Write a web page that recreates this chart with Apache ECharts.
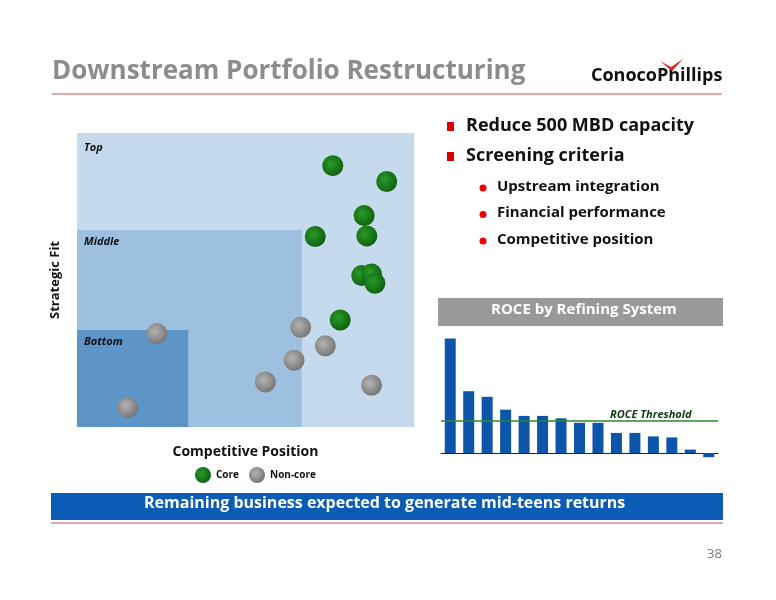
<!DOCTYPE html>
<html>
<head>
<meta charset="UTF-8" />
<title>Downstream Portfolio Restructuring</title>
<style>
  body { margin: 0; background: #fff; }
  #chart { width: 776px; height: 600px; }
</style>
<script src="https://cdn.jsdelivr.net/npm/echarts@6/dist/echarts.min.js"></script>
</head>
<body>
<div id="chart"></div>
<script>
  var corePoints = [[75.9, 88.9], [91.9, 83.5], [85.2, 71.9], [70.7, 64.8], [86, 65], [84.5, 51.5], [87.4, 52], [88.4, 48.9], [78.1, 36.4]];
  var nonCorePoints = [[23.7, 31.8], [66.4, 33.9], [73.7, 27.6], [64.4, 22.7], [55.9, 15.3], [87.4, 14.2], [15.1, 6.6]];
  var roceValues = [33, 17.8, 16.2, 12.5, 10.7, 10.7, 10, 8.7, 8.7, 5.8, 5.8, 4.8, 4.5, 1, -1.2];
  var roceThreshold = 9.2;
  var bulletsMain = ["Reduce 500 MBD capacity", "Screening criteria"];
  var bulletsSub = ["Upstream integration", "Financial performance", "Competitive position"];

  var font = "'Open Sans', 'Liberation Sans', sans-serif";
  var chart = echarts.init(document.getElementById("chart"));

  function ball(c1, c2) {
    return new echarts.graphic.RadialGradient(0.4, 0.4, 0.7, [
      { offset: 0, color: c1 }, { offset: 1, color: c2 }
    ]);
  }

  var graphics = [
    { type: "text", left: 52, top: 59, style: { text: "Downstream Portfolio Restructuring", font: "bold 26px " + font, fill: "#8c8c8c" } },
    { type: "text", left: 591, top: 67, style: { text: "ConocoPhillips", font: "bold 18px " + font, fill: "#111" } },
    { type: "polygon", shape: { points: [[660, 61], [671, 67], [683, 59], [672, 71]] }, style: { fill: "#e32222" } },
    { type: "line", shape: { x1: 52, y1: 94, x2: 722, y2: 94 }, style: { stroke: "#c85050", lineWidth: 1 } },
    { type: "rect", shape: { x: 438, y: 298, width: 285, height: 28 }, style: { fill: "#999" } },
    { type: "text", left: 491, top: 302, style: { text: "ROCE by Refining System", font: "bold 15px " + font, fill: "#fff" } },
    { type: "rect", shape: { x: 51, y: 493, width: 672, height: 27 }, style: { fill: "#0a5cb4" } },
    { type: "text", left: 144, top: 495, style: { text: "Remaining business expected to generate mid-teens returns", font: "bold 16px " + font, fill: "#fff" } },
    { type: "line", shape: { x1: 51, y1: 523, x2: 723, y2: 523 }, style: { stroke: "#c85050", lineWidth: 1 } },
    { type: "text", left: 707, top: 548, style: { text: "38", font: "13px " + font, fill: "#777" } },
    { type: "text", left: 84, top: 142, z: 100, style: { text: "Top", font: "italic bold 11px " + font, fill: "#111" } },
    { type: "text", left: 84, top: 236, z: 100, style: { text: "Middle", font: "italic bold 11px " + font, fill: "#111" } },
    { type: "text", left: 84, top: 336, z: 100, style: { text: "Bottom", font: "italic bold 11px " + font, fill: "#111" } },
    { type: "text", left: 610, top: 409, z: 100, style: { text: "ROCE Threshold", font: "italic bold 11px " + font, fill: "#0d3b0d" } }
  ];
  bulletsMain.forEach(function (t, i) {
    graphics.push({ type: "rect", shape: { x: 447, y: 122 + i * 30, width: 7, height: 9 }, style: { fill: "#d00" } });
    graphics.push({ type: "text", left: 466, top: 117 + i * 30, style: { text: t, font: "bold 18px " + font, fill: "#111" } });
  });
  bulletsSub.forEach(function (t, i) {
    graphics.push({ type: "circle", shape: { cx: 483, cy: 188 + i * 26.5, r: 3.5 }, style: { fill: "#e00" } });
    graphics.push({ type: "text", left: 497, top: 179 + i * 26.5, style: { text: t, font: "bold 15px " + font, fill: "#111" } });
  });

  var option = {
    animation: false,
    textStyle: { fontFamily: font },
    graphic: graphics,
    legend: {
      data: ["Core", "Non-core"], left: 190, top: 462, itemWidth: 16, itemHeight: 16, itemGap: 10,
      textStyle: { fontSize: 10, fontWeight: "bold", color: "#111" }
    },
    grid: [
      { left: 77, top: 133, width: 337, height: 294 },
      { left: 441, top: 335, width: 277, height: 125 }
    ],
    xAxis: [
      { gridIndex: 0, type: "value", min: 0, max: 100, axisLine: { show: false }, axisTick: { show: false }, axisLabel: { show: false }, splitLine: { show: false },
        name: "Competitive Position", nameLocation: "middle", nameGap: 18, nameTextStyle: { fontSize: 14, fontWeight: "bold", color: "#111" } },
      { gridIndex: 1, type: "category", data: roceValues.map(function (v, i) { return i + 1; }), axisLine: { lineStyle: { color: "#222" } }, axisTick: { show: false }, axisLabel: { show: false } }
    ],
    yAxis: [
      { gridIndex: 0, type: "value", min: 0, max: 100, axisLine: { show: false }, axisTick: { show: false }, axisLabel: { show: false }, splitLine: { show: false },
        name: "Strategic Fit", nameLocation: "middle", nameGap: 15, nameTextStyle: { fontSize: 13, fontWeight: "bold", color: "#111" } },
      { gridIndex: 1, type: "value", min: -2, max: 34, show: false }
    ],
    series: [
      {
        type: "scatter", xAxisIndex: 0, yAxisIndex: 0, data: [], silent: true,
        markArea: {
          silent: true,
          data: [
            [{ coord: [0, 0], itemStyle: { color: "#c6daed" } }, { coord: [100, 100] }],
            [{ coord: [0, 0], itemStyle: { color: "#9dc0e1" } }, { coord: [66.7, 67] }],
            [{ coord: [0, 0], itemStyle: { color: "#5e95c8" } }, { coord: [33, 33] }]
          ]
        }
      },
      { name: "Core", type: "scatter", xAxisIndex: 0, yAxisIndex: 0, symbolSize: 21, data: corePoints, itemStyle: { color: ball("#2a9a2a", "#0a5a0a"), opacity: 1 } },
      { name: "Non-core", type: "scatter", xAxisIndex: 0, yAxisIndex: 0, symbolSize: 21, data: nonCorePoints, itemStyle: { color: ball("#b4b4b4", "#6e6e6e"), opacity: 1 } },
      {
        type: "bar", xAxisIndex: 1, yAxisIndex: 1, data: roceValues, barWidth: 11, itemStyle: { color: "#0c55aa" },
        markLine: {
          silent: true, symbol: "none", label: { show: false },
          lineStyle: { color: "#2a8a2a", width: 1.5, type: "solid" },
          data: [{ yAxis: roceThreshold }]
        }
      }
    ]
  };
  chart.setOption(option);
</script>
</body>
</html>
